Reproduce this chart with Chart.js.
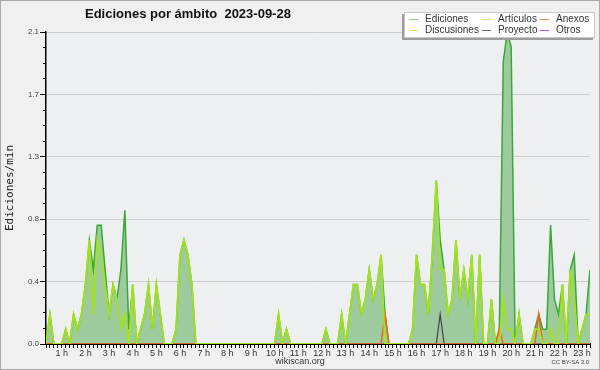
<!DOCTYPE html>
<html>
<head>
<meta charset="utf-8">
<script src="https://cdn.jsdelivr.net/npm/chart.js@4.4.1/dist/chart.umd.min.js"></script>
<style>
  html, body { margin: 0; padding: 0; }
  body { width: 600px; height: 370px; position: relative; overflow: hidden; background: #f0f0f0; font-family: 'Liberation Sans', Arial, sans-serif; }
  #chart { position: absolute; left: 0; top: 0; }
  #frame { position: absolute; left: 0; top: 0; width: 598px; height: 368px; border: 1px solid #a9a9a9; pointer-events: none; }
  #title { position: absolute; left: 85px; top: 6px; font: bold 13px/15px 'Liberation Sans', Arial, sans-serif; color: #111; white-space: pre; }
  #legend { position: absolute; left: 404px; top: 12px; width: 189px; height: 24px; background: #fff; border: 1px solid #c8c8c8; box-shadow: -2px 2px 0 #9c9c9c; }
  .item { position: absolute; font: 10px/10px 'Liberation Sans', Arial, sans-serif; color: #333; white-space: nowrap; }
  .item span { position: absolute; top: 5px; width: 9px; height: 1px; }
  #site { position: absolute; left: 300px; top: 356px; transform: translateX(-50%); font: 9px/11px 'Liberation Sans', Arial, sans-serif; color: #333; }
  #licence { position: absolute; right: 11px; top: 359px; font: 6px/7px 'Liberation Sans', Arial, sans-serif; color: #444; }
</style>
</head>
<body>
<canvas id="chart" width="600" height="370"></canvas>
<div id="title">Ediciones por ámbito  2023-09-28</div>
<div id="legend"></div>
<div id="site">wikiscan.org</div>
<div id="licence">CC BY-SA 3.0</div>
<div id="frame"></div>
<script>
// one sample every 10 minutes, first one at 00:20
const startMinute = 20;
const stepMinute = 10;

const hourLabels = ['1 h', '2 h', '3 h', '4 h', '5 h', '6 h', '7 h', '8 h', '9 h', '10 h', '11 h', '12 h',
  '13 h', '14 h', '15 h', '16 h', '17 h', '18 h', '19 h', '20 h', '21 h', '22 h', '23 h'];
const yLabels = ['0.0', '0.4', '0.8', '1.3', '1.7', '2.1'];

// edits per minute
const ediciones = [
  0, 0.2, 0, 0, 0, 0.1, 0, 0.2, 0.1, 0.2,
  0.4, 0.7, 0.5, 0.8, 0.8, 0.5, 0.2, 0.4, 0.3, 0.5,
  0.9, 0.1, 0.4, 0, 0.1, 0.2, 0.4, 0.1, 0.4, 0.2,
  0, 0, 0, 0.1, 0.6, 0.7, 0.6, 0.4, 0, 0,
  0, 0, 0, 0, 0, 0, 0, 0, 0, 0,
  0, 0, 0, 0, 0, 0, 0, 0, 0, 0.2,
  0, 0.1, 0, 0, 0, 0, 0, 0, 0, 0,
  0, 0.1, 0, 0, 0, 0.2, 0, 0.2, 0.4, 0.4,
  0.2, 0.3, 0.5, 0.3, 0.4, 0.6, 0.2, 0, 0, 0,
  0, 0, 0, 0.1, 0.6, 0.4, 0.4, 0.2, 0.6, 1.1,
  0.7, 0.5, 0.2, 0.3, 0.7, 0.3, 0.5, 0.3, 0.6, 0,
  0.6, 0, 0, 0.3, 0, 0.1, 1.9, 2.1, 2.0, 0,
  0.2, 0, 0, 0, 0.1, 0.2, 0.1, 0.1, 0.8, 0.3,
  0.2, 0.4, 0, 0.5, 0.6, 0, 0.1, 0.2, 0.5
];
const articulos = [
  0, 0.2, 0, 0, 0, 0.1, 0, 0.2, 0.1, 0.2,
  0.4, 0.7, 0.2, 0.7, 0.6, 0.4, 0.2, 0.4, 0.3, 0.1,
  0.2, 0, 0.4, 0, 0.1, 0.2, 0.4, 0.1, 0.4, 0.2,
  0, 0, 0, 0.1, 0.6, 0.7, 0.6, 0.4, 0, 0,
  0, 0, 0, 0, 0, 0, 0, 0, 0, 0,
  0, 0, 0, 0, 0, 0, 0, 0, 0, 0.2,
  0, 0.1, 0, 0, 0, 0, 0, 0, 0, 0,
  0, 0.1, 0, 0, 0, 0.2, 0, 0.2, 0.4, 0.4,
  0.2, 0.3, 0.5, 0.3, 0.4, 0.6, 0, 0, 0, 0,
  0, 0, 0, 0.1, 0.6, 0.4, 0.4, 0.2, 0.6, 1.1,
  0.5, 0.5, 0.2, 0.3, 0.7, 0.3, 0.5, 0.3, 0.6, 0,
  0.6, 0, 0, 0.3, 0, 0, 0.3, 0.1, 0.1, 0,
  0.2, 0, 0, 0, 0.1, 0.1, 0, 0, 0.1, 0,
  0, 0.4, 0, 0.5, 0.3, 0, 0.1, 0.2, 0.2
];
const anexos = [
  0, 0, 0, 0, 0, 0, 0, 0, 0, 0,  0, 0, 0, 0, 0, 0, 0, 0, 0, 0,
  0, 0, 0, 0, 0, 0, 0, 0, 0, 0,  0, 0, 0, 0, 0, 0, 0, 0, 0, 0,
  0, 0, 0, 0, 0, 0, 0, 0, 0, 0,  0, 0, 0, 0, 0, 0, 0, 0, 0, 0,
  0, 0, 0, 0, 0, 0, 0, 0, 0, 0,  0, 0, 0, 0, 0, 0, 0, 0, 0, 0,
  0, 0, 0, 0, 0, 0, 0.2, 0, 0, 0,  0, 0, 0, 0, 0, 0, 0, 0, 0, 0,
  0, 0, 0, 0, 0, 0, 0, 0, 0, 0,  0, 0, 0, 0, 0, 0.1, 0, 0, 0, 0,
  0, 0, 0, 0, 0, 0.2, 0, 0, 0, 0,  0, 0, 0, 0, 0, 0, 0, 0, 0
];
const proyecto = [
  0, 0, 0, 0, 0, 0, 0, 0, 0, 0,  0, 0, 0, 0, 0, 0, 0, 0, 0, 0,
  0, 0, 0, 0, 0, 0, 0, 0, 0, 0,  0, 0, 0, 0, 0, 0, 0, 0, 0, 0,
  0, 0, 0, 0, 0, 0, 0, 0, 0, 0,  0, 0, 0, 0, 0, 0, 0, 0, 0, 0,
  0, 0, 0, 0, 0, 0, 0, 0, 0, 0,  0, 0, 0, 0, 0, 0, 0, 0, 0, 0,
  0, 0, 0, 0, 0, 0, 0, 0, 0, 0,  0, 0, 0, 0, 0, 0, 0, 0, 0, 0,
  0.2, 0, 0, 0, 0, 0, 0, 0, 0, 0,  0, 0, 0, 0, 0, 0, 0, 0, 0, 0,
  0, 0, 0, 0, 0, 0, 0, 0, 0, 0,  0, 0, 0, 0, 0, 0, 0, 0, 0
];
const discusiones = [
  0, 0, 0, 0, 0, 0, 0, 0, 0, 0,  0, 0, 0, 0, 0, 0, 0, 0, 0, 0,
  0, 0, 0, 0, 0, 0, 0, 0, 0, 0,  0, 0, 0, 0, 0, 0, 0, 0, 0, 0,
  0, 0, 0, 0, 0, 0, 0, 0, 0, 0,  0, 0, 0, 0, 0, 0, 0, 0, 0, 0,
  0, 0, 0, 0, 0, 0, 0, 0, 0, 0,  0, 0, 0, 0, 0, 0, 0, 0, 0, 0,
  0, 0, 0, 0, 0, 0, 0, 0, 0, 0,  0, 0, 0, 0, 0, 0, 0, 0, 0, 0,
  0, 0, 0, 0, 0, 0, 0, 0, 0, 0,  0, 0, 0, 0, 0, 0, 0, 0, 0, 0,
  0, 0, 0, 0, 0, 0, 0, 0, 0, 0,  0, 0, 0, 0, 0, 0, 0, 0, 0
];
const otros = discusiones.slice();

function points(arr) {
  return arr.map((v, i) => ({ x: startMinute + i * stepMinute, y: v }));
}

// LEGEND (3 columns x 2 rows)
const legendItems = [
  { name: 'Ediciones', color: '#8fd08f', left: 4, top: 1 },
  { name: 'Discusiones', color: '#f2d65a', left: 4, top: 12 },
  { name: 'Artículos', color: '#cdee6a', left: 77, top: 1 },
  { name: 'Proyecto', color: '#666666', left: 77, top: 12 },
  { name: 'Anexos', color: '#f08a55', left: 135, top: 1 },
  { name: 'Otros', color: '#a064f0', left: 135, top: 12 }
];
const legend = document.getElementById('legend');
legendItems.forEach(it => {
  const d = document.createElement('div');
  d.className = 'item';
  d.style.left = it.left + 'px';
  d.style.top = it.top + 'px';
  d.style.paddingLeft = '16px';
  d.innerHTML = '<span style="left:0;background:' + it.color + '"></span>' + it.name;
  legend.appendChild(d);
});

// PLOT BACKGROUND
const plotBg = {
  id: 'plotBg',
  beforeDraw(chart) {
    const { ctx, chartArea: a } = chart;
    ctx.save();
    ctx.fillStyle = '#eeeff1';
    ctx.fillRect(a.left, a.top, a.right - a.left, a.bottom - a.top);
    ctx.restore();
  }
};

const line = (label, data, color, width) => ({
  label, data: points(data), borderColor: color, borderWidth: width,
  pointRadius: 0, tension: 0, fill: false
});

new Chart(document.getElementById('chart'), {
  type: 'line',
  data: {
    datasets: [
      line('Artículos', articulos, '#a4e31c', 1.8),
      line('Anexos', anexos, '#ee6420', 1.5),
      line('Proyecto', proyecto, '#444444', 1.2),
      line('Discusiones', discusiones, '#f2d65a', 1.2),
      line('Otros', otros, '#a064f0', 1.2),
      {
        label: 'Ediciones', data: points(ediciones), borderColor: '#38a838', borderWidth: 1.5,
        backgroundColor: '#9ecb9e', fill: 'origin', pointRadius: 0, tension: 0
      }
    ]
  },
  options: {
    responsive: false,
    animation: false,
    layout: { padding: { top: 32, right: 10, left: 0, bottom: 0 } },
    plugins: { legend: { display: false }, tooltip: { enabled: false } },
    scales: {
      x: {
        type: 'linear',
        min: startMinute,
        max: startMinute + (ediciones.length - 1) * stepMinute,
        z: 1,
        afterBuildTicks(s) {
          s.ticks = [];
          for (let m = s.min; m <= s.max; m += stepMinute) s.ticks.push({ value: m });
        },
        afterFit(s) { s.height = 26; },
        ticks: {
          autoSkip: false, maxRotation: 0, minRotation: 0, padding: 0,
          color: '#333', font: { family: 'Liberation Sans', size: 9 },
          callback: v => (v % 60 === 0 ? hourLabels[v / 60 - 1] : '')
        },
        grid: { drawOnChartArea: false, tickLength: 4, tickColor: '#000', tickWidth: 1 },
        border: { color: '#000', width: 2 }
      },
      y: {
        min: 0,
        max: 2.1,
        afterBuildTicks(s) {
          s.ticks = [];
          for (let k = 0; k <= 20; k++) s.ticks.push({ value: k * 0.105 });
        },
        afterFit(s) { s.width = 46; },
        ticks: {
          autoSkip: false, padding: 1,
          color: '#444', font: { family: 'Liberation Sans', size: 8 },
          callback: (v, i) => (i % 4 === 0 ? yLabels[i / 4] : '')
        },
        grid: {
          color: c => (c.index % 4 === 0 ? '#cccccc' : 'rgba(0,0,0,0)'),
          tickColor: '#000',
          tickLength: 6,
          tickBorderDash: c => (c.index % 4 === 0 ? [] : [0, 3, 3, 0])
        },
        border: { color: '#000', width: 1.5 },
        title: {
          display: true, text: 'Ediciones/min', color: '#222',
          font: { family: 'DejaVu Sans Mono', size: 11 },
          padding: { top: 3.5, bottom: 0 }
        }
      }
    }
  },
  plugins: [plotBg]
});
</script>
</body>
</html>
